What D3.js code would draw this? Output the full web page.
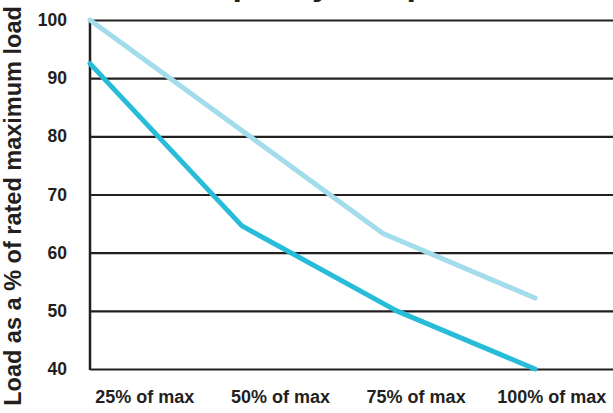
<!DOCTYPE html>
<html>
<head>
<meta charset="utf-8">
<script src="https://cdn.jsdelivr.net/npm/d3@7"></script>
<style>
  body { margin: 0; background: #fff; }
  text { font-family: "Liberation Sans", Arial, sans-serif; font-weight: bold; fill: #231f20; }
</style>
</head>
<body>
<svg id="chart" width="613" height="413"></svg>
<script>
// Data
const xTicks = [25, 50, 75, 100];
const yTicks = [40, 50, 60, 70, 80, 90, 100];
const darkX = [15, 43, 71.5, 97];
const darkY = [92.5, 64.6, 50, 40];
const lightX = [15, 69, 97];
const lightY = [100, 63.3, 52.2];

const svg = d3.select("#chart");
const width = +svg.attr("width");

const x = d3.scaleLinear().domain([15, 97]).range([90, 535]);
const y = d3.scaleLinear().domain([40, 100]).range([369, 20]);

// Title (mostly above the visible area, only descenders show)
svg.append("text")
    .attr("x", 295)
    .attr("y", -5.5)
    .attr("text-anchor", "middle")
    .style("font-size", "34px")
    .text("Load capacity vs speed");

// Gridlines + y labels
const yAxis = svg.append("g")
    .attr("transform", "translate(90,0)")
    .call(d3.axisLeft(y).tickValues(yTicks).tickSize(-(width - 90)).tickPadding(23));
yAxis.select(".domain").remove();
yAxis.selectAll(".tick line").attr("stroke", "#231f20").attr("stroke-width", 2.2);
yAxis.selectAll(".tick text")
    .attr("fill", "#231f20")
    .style("font-size", "17.5px")
    .style("font-family", "'Liberation Sans', Arial, sans-serif");

// left axis line
svg.append("line")
    .attr("x1", 90).attr("x2", 90)
    .attr("y1", y(100) - 1).attr("y2", y(40) + 1)
    .attr("stroke", "#231f20")
    .attr("stroke-width", 2.5);

// x labels
const xAxis = svg.append("g")
    .attr("transform", "translate(0,390)")
    .call(d3.axisBottom(x).tickValues(xTicks).tickSize(0).tickPadding(0)
        .tickFormat(d => d + "% of max"));
xAxis.select(".domain").remove();
xAxis.selectAll(".tick text")
    .attr("fill", "#231f20")
    .style("font-size", "18px")
    .style("font-family", "'Liberation Sans', Arial, sans-serif");

// y axis title
svg.append("text")
    .attr("transform", "translate(21,206) rotate(-90)")
    .attr("text-anchor", "middle")
    .style("font-size", "23.5px")
    .text("Load as a % of rated maximum load");

// Lines
const line = d3.line().x(d => x(d[0])).y(d => y(d[1]));

svg.append("path")
    .datum(d3.zip(lightX, lightY))
    .attr("d", line)
    .attr("fill", "none")
    .attr("stroke", "#a3dcea")
    .attr("stroke-width", 5)
    .attr("stroke-linecap", "round")
    .attr("stroke-linejoin", "round");

svg.append("path")
    .datum(d3.zip(darkX, darkY))
    .attr("d", line)
    .attr("fill", "none")
    .attr("stroke", "#27bdd9")
    .attr("stroke-width", 5)
    .attr("stroke-linecap", "round")
    .attr("stroke-linejoin", "round");
</script>
</body>
</html>
